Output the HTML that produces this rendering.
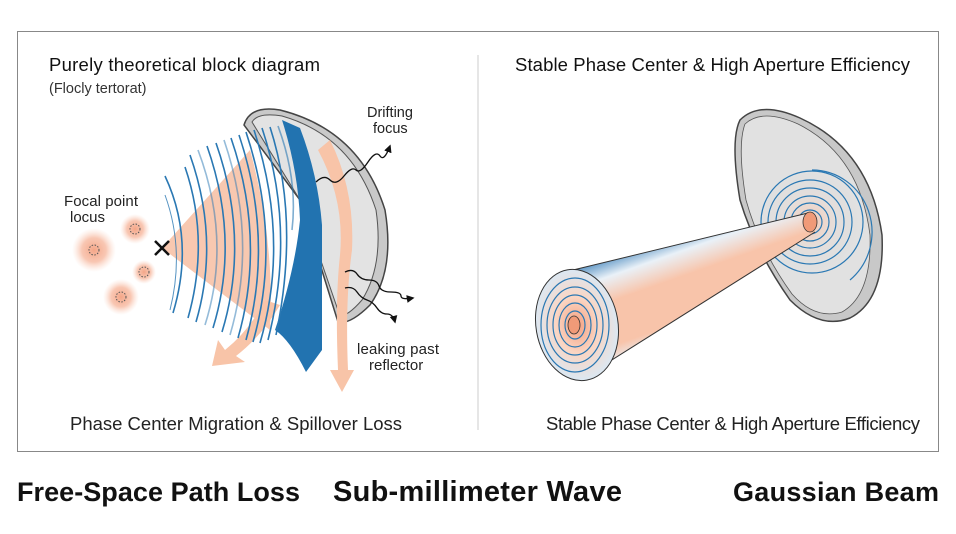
<!DOCTYPE html>
<html><head><meta charset="utf-8"><style>
html,body{margin:0;padding:0;background:#fff;}
svg{display:block;font-family:"Liberation Sans",sans-serif;}
</style></head><body>
<svg width="956" height="534" viewBox="0 0 956 534" xmlns="http://www.w3.org/2000/svg">
<defs>
<radialGradient id="blob"><stop offset="0" stop-color="#f4a688"/><stop offset="0.55" stop-color="#f7b9a0" stop-opacity="0.8"/><stop offset="1" stop-color="#fbd8c8" stop-opacity="0"/></radialGradient>
<linearGradient id="cone" gradientUnits="userSpaceOnUse" x1="560" y1="268" x2="600" y2="382"><stop offset="0" stop-color="#2f78b5"/><stop offset="0.2" stop-color="#e9f1f8"/><stop offset="0.4" stop-color="#f8c4aa"/><stop offset="0.75" stop-color="#f8c4aa"/><stop offset="0.9" stop-color="#e9f1f8"/><stop offset="1" stop-color="#2f78b5"/></linearGradient>
<radialGradient id="face" cx="0.5" cy="0.5" r="0.5"><stop offset="0" stop-color="#f4a080"/><stop offset="0.5" stop-color="#fbd5c2"/><stop offset="1" stop-color="#dbe8f3"/></radialGradient>
<radialGradient id="dishc"><stop offset="0" stop-color="#f8c9b3"/><stop offset="0.5" stop-color="#e8dcd6" stop-opacity="0.6"/><stop offset="1" stop-color="#d9d9d9" stop-opacity="0"/></radialGradient>
<marker id="ah" viewBox="0 0 10 10" refX="8" refY="5" markerWidth="6" markerHeight="6" orient="auto"><path d="M0,0 L10,5 L0,10 z" fill="#111"/></marker>
</defs>
<rect x="17.5" y="31.5" width="921" height="420" fill="#fff" stroke="#888" stroke-width="1"/>
<line x1="478" y1="55" x2="478" y2="430" stroke="#ccc" stroke-width="1"/>

<text x="49" y="71" font-size="18.5" fill="#111" textLength="271">Purely theoretical block diagram</text>
<text x="49" y="93" font-size="14.5" fill="#333">(Flocly tertorat)</text>
<text x="515" y="71" font-size="18.5" fill="#111" textLength="395">Stable Phase Center &amp; High Aperture Efficiency</text>
<text x="70" y="430" font-size="18.5" fill="#222" textLength="332">Phase Center Migration &amp; Spillover Loss</text>
<text x="546" y="430" font-size="18.5" fill="#222" textLength="374">Stable Phase Center &amp; High Aperture Efficiency</text>
<text x="17" y="501" font-size="27" font-weight="bold" fill="#111" textLength="283">Free-Space Path Loss</text>
<text x="333" y="501" font-size="29" font-weight="bold" fill="#111" textLength="289">Sub-millimeter Wave</text>
<text x="733" y="501" font-size="27" font-weight="bold" fill="#111" textLength="206">Gaussian Beam</text>

<path d="M244,125 Q250,105 280,110 Q360,130 385,210 Q395,270 370,305 Q350,325 338,322 L300,200 Z" fill="#c9c9c9" stroke="#444" stroke-width="1.5"/>
<path d="M252,122 Q258,112 282,116 Q352,136 376,210 Q384,265 362,300 Q348,316 340,316 L300,200 Z" fill="#e3e3e3" stroke="#555" stroke-width="1"/>
<path d="M162,248 L250,150 Q275,240 270,330 Z" fill="#f8c8b0"/>
<path d="M318,150 Q345,200 340,255 Q335,300 338,370 L330,370 L342,392 L354,370 L348,370 Q345,300 352,250 Q355,190 330,140 Z" fill="#f8c4a8"/>
<path d="M265,300 Q250,330 225,350 L218,340 L212,366 L245,362 L236,356 Q262,336 280,305 Z" fill="#f8c4a8"/>
<path d="M282,120 L300,128 Q318,175 322,225 Q322,290 322,350 L306,372 Q290,340 275,330 Q295,270 300,220 Q298,170 282,120 Z" fill="#2273b0"/>
<g fill="none" stroke="#2a78b3" stroke-width="1.6">
<path d="M165,195 Q185,250 170,310" stroke-width="1" opacity="0.8"/>
<path d="M165,176 Q195,240 173,313"/>
<path d="M185,167 Q210,240 188,318"/>
<path d="M190,155 Q220,240 196,322"/>
<path d="M198,150 Q232,240 205,325" opacity="0.5"/>
<path d="M207,146 Q240,240 213,328"/>
<path d="M216,143 Q250,240 222,332"/>
<path d="M224,140 Q258,240 230,335" opacity="0.5"/>
<path d="M231,138 Q266,240 238,338"/>
<path d="M239,135 Q274,240 246,340"/>
<path d="M246,132 Q282,240 253,342"/>
<path d="M254,130 Q290,240 260,343"/>
<path d="M262,128 Q296,230 268,340"/>
<path d="M270,127 Q300,220 276,335"/>
<path d="M278,126 Q298,180 292,230" opacity="0.6"/>
</g>
<path d="M155,241 L169,255 M169,241 L155,255" stroke="#111" stroke-width="2.5"/>
<g>
<circle cx="94" cy="250" r="22" fill="url(#blob)"/><circle cx="94" cy="250" r="5" fill="none" stroke="#555" stroke-dasharray="1.5,1.5"/>
<circle cx="135" cy="229" r="15" fill="url(#blob)"/><circle cx="135" cy="229" r="5" fill="none" stroke="#555" stroke-dasharray="1.5,1.5"/>
<circle cx="144" cy="272" r="12" fill="url(#blob)"/><circle cx="144" cy="272" r="5" fill="none" stroke="#555" stroke-dasharray="1.5,1.5"/>
<circle cx="121" cy="297" r="18" fill="url(#blob)"/><circle cx="121" cy="297" r="5" fill="none" stroke="#555" stroke-dasharray="1.5,1.5"/>
</g>
<text x="64" y="206" font-size="15" fill="#222" textLength="74">Focal point</text>
<text x="70" y="222" font-size="15" fill="#222">locus</text>
<text x="367" y="117" font-size="14.5" fill="#222">Drifting</text>
<text x="373" y="133" font-size="14.5" fill="#222">focus</text>
<text x="357" y="354" font-size="15" fill="#222" textLength="82">leaking past</text>
<text x="369" y="370" font-size="15" fill="#222">reflector</text>
<g fill="none" stroke="#111" stroke-width="1.3" marker-end="url(#ah)">
<path d="M316,182 q8,-8 14,-2 t14,-4 t12,-6 t12,-8 t12,-6 t10,-10"/>
<path d="M345,272 q8,-4 12,2 t12,6 t10,6 t12,6 t10,4 t12,2"/>
<path d="M345,288 q8,-2 12,4 t10,8 t10,8 t10,6 t8,8"/>
</g>

<path d="M740,120 Q760,100 800,118 Q870,150 882,235 Q885,300 850,318 Q820,330 790,300 Q755,250 740,200 Q730,140 740,120 Z" fill="#c8c8c8" stroke="#444" stroke-width="1.5"/>
<path d="M745,124 Q762,108 798,124 Q860,155 870,235 Q872,295 842,312 Q815,320 792,294 Q760,250 746,200 Q737,145 745,124 Z" fill="#e1e1e1" stroke="#555" stroke-width="0.8"/>
<circle cx="810" cy="222" r="50" fill="url(#dishc)"/>
<g fill="none" stroke="#2a78b3" stroke-width="1.2">
<circle cx="810" cy="222" r="12"/><circle cx="810" cy="222" r="19"/><circle cx="810" cy="222" r="26"/><circle cx="810" cy="222" r="34"/><circle cx="810" cy="222" r="42"/><circle cx="812" cy="222" r="51"/>
<path d="M812,170 A60,62 0 0 1 850,280"/>
</g>
<path d="M573,270 L808,213 L815,232 L580,380 Z" fill="url(#cone)"/>
<path d="M573,270 L808,213 M580,380 L815,232" stroke="#333" stroke-width="1"/>
<ellipse cx="577" cy="325" rx="41" ry="56" fill="url(#face)" stroke="#333" stroke-width="1" transform="rotate(-10 577 325)"/>
<g fill="none" stroke="#2a78b3" stroke-width="1.2">
<ellipse cx="575" cy="325" rx="10" ry="14"/><ellipse cx="575" cy="325" rx="16" ry="22"/><ellipse cx="575" cy="325" rx="22" ry="30"/><ellipse cx="575" cy="325" rx="28" ry="38"/><ellipse cx="575" cy="325" rx="34" ry="47"/>
</g>
<ellipse cx="574" cy="325" rx="6" ry="9" fill="#f09a78" stroke="#333" stroke-width="0.8"/>
<ellipse cx="810" cy="222" rx="7" ry="10" fill="#f09a78" stroke="#333" stroke-width="0.8"/>
</svg>
</body></html>
